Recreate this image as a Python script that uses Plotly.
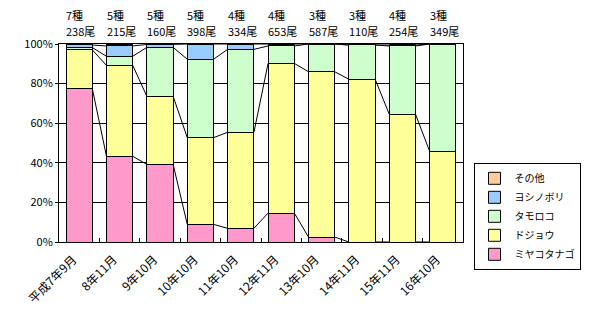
import plotly.graph_objects as go

categories = ["平成7年9月", "8年11月", "9年10月", "10年10月", "11年10月",
              "12年11月", "13年10月", "14年11月", "15年11月", "16年10月"]
species_counts = ["7種", "5種", "5種", "5種", "4種", "4種", "3種", "3種", "4種", "3種"]
fish_counts = ["238尾", "215尾", "160尾", "398尾", "334尾", "653尾", "587尾", "110尾", "254尾", "349尾"]
y_ticks = [0, 20, 40, 60, 80, 100]

miyako = [77.4, 43.3, 39.2, 8.9, 6.9, 14.6, 2.5, 0, 0, 0]
dojou = [19.6, 45.9, 34.4, 43.8, 48.5, 75.6, 83.5, 82.2, 64.5, 45.8]
tamoroko = [1.2, 4.6, 24.7, 39.6, 41.9, 8.8, 14.0, 17.3, 34.5, 54.2]
yoshinobori = [1.3, 5.2, 1.5, 7.7, 2.7, 1.0, 0, 0, 0.5, 0]
sonota = [0.5, 1.0, 0.2, 0, 0, 0, 0, 0.5, 0.5, 0]

series = [
    ("ミヤコタナゴ", miyako, "#FF99CC"),
    ("ドジョウ", dojou, "#FFFF99"),
    ("タモロコ", tamoroko, "#CCFFCC"),
    ("ヨシノボリ", yoshinobori, "#99CCFF"),
    ("その他", sonota, "#FFCC99"),
]

FONT = "Noto Sans CJK JP, sans-serif"
BW = 0.65
xs = list(range(len(categories)))

fig = go.Figure()
cum = [0.0] * len(categories)
cums = []
for name, vals, color in series:
    fig.add_trace(go.Bar(
        x=xs, y=[v if v > 0 else None for v in vals], name=name,
        marker=dict(color=color, line=dict(color="black", width=1)),
        width=BW,
    ))
    cum = [c + v for c, v in zip(cum, vals)]
    cums.append(cum[:])

# series lines between adjacent bars
for cumv in cums[:-1]:
    lx, ly = [], []
    for i in range(len(categories) - 1):
        lx += [i + BW / 2, i + 1 - BW / 2, None]
        ly += [cumv[i], cumv[i + 1], None]
    fig.add_trace(go.Scatter(x=lx, y=ly, mode="lines",
                             line=dict(color="black", width=1),
                             showlegend=False, hoverinfo="skip"))

for i in xs:
    fig.add_annotation(x=i, y=1.146, xref="x", yref="paper", yanchor="middle",
                       xanchor="left", xshift=-15,
                       showarrow=False, text=species_counts[i],
                       font=dict(family=FONT, size=11, color="black"))
    fig.add_annotation(x=i, y=1.066, xref="x", yref="paper", yanchor="middle",
                       xanchor="left", xshift=-15,
                       showarrow=False, text=fish_counts[i],
                       font=dict(family=FONT, size=11, color="black"))

fig.update_layout(
    width=593, height=328,
    margin=dict(l=59, r=117, t=44, b=86),
    barmode="stack",
    bargap=0.35,
    plot_bgcolor="white", paper_bgcolor="white",
    font=dict(family=FONT, size=11, color="black"),
    legend=dict(x=1.026, y=0.40, xanchor="left", yanchor="top",
                traceorder="reversed", bgcolor="white",
                bordercolor="black", borderwidth=1,
                font=dict(family=FONT, size=10, color="black"),
                itemwidth=30, tracegroupgap=0),
    xaxis=dict(range=[-0.5, len(categories) - 0.5], tickvals=xs, ticktext=categories,
               tickangle=-45, ticks="", showgrid=False, showline=True,
               linecolor="black", linewidth=1, mirror=True, zeroline=False,
               ticklabelshift=-6, ticklabelstandoff=5,
               minor=dict(tickvals=[i + 0.5 for i in xs[:-1]], ticks="inside",
                          ticklen=4, tickcolor="black", showgrid=False),
               tickfont=dict(family=FONT, size=12, color="black")),
    yaxis=dict(range=[0, 100], tickvals=y_ticks, ticktext=[f"{v}%" for v in y_ticks],
               showgrid=True, gridcolor="black", gridwidth=1, showline=True,
               linecolor="black", linewidth=1, mirror=True, zeroline=False,
               ticks="outside", ticklen=3, tickcolor="black",
               tickfont=dict(family=FONT, size=11, color="black")),
)

fig.write_html("out.html")
